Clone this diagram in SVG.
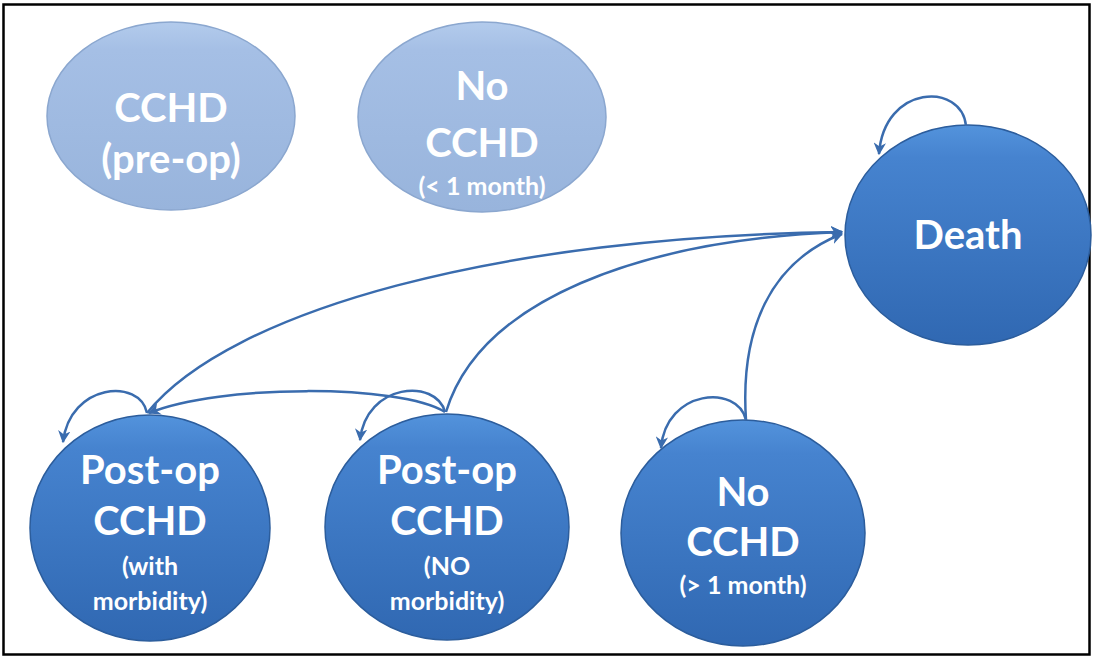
<svg xmlns="http://www.w3.org/2000/svg" width="1094" height="659" viewBox="0 0 1094 659">
<style>
.dark{fill:url(#gDark);stroke:#2c5d9c;stroke-width:1.5}
.light{fill:url(#gLight);stroke:#8ba7cf;stroke-width:1.5}
.t{font-family:Lato,"Open Sans",sans-serif;font-weight:bold;fill:#ffffff;text-anchor:middle}
.big{font-size:40px}
.small{font-size:25px}
.edge{fill:none;stroke:#3a6cae;stroke-width:2.5}
</style>
<defs>
<linearGradient id="gDark" x1="0" y1="0" x2="0" y2="1">
<stop offset="0" stop-color="#5393dc"/>
<stop offset="0.15" stop-color="#4683cf"/>
<stop offset="1" stop-color="#3068b2"/>
</linearGradient>
<linearGradient id="gLight" x1="0" y1="0" x2="0" y2="1">
<stop offset="0" stop-color="#b3cbec"/>
<stop offset="0.15" stop-color="#a5bfe5"/>
<stop offset="1" stop-color="#98b4dc"/>
</linearGradient>
<marker id="arr" viewBox="0 0 10 10" refX="9" refY="5" markerWidth="5" markerHeight="5" orient="auto" markerUnits="strokeWidth">
<path d="M0,0 L10,5 L0,10 L3,5 z" fill="#3a6cae"/>
</marker>
</defs>
<rect x="3.5" y="4.5" width="1086" height="650" fill="#ffffff" stroke="#000000" stroke-width="2.5"/>
<g id="n-cchd-preop">
<ellipse class="light" cx="171" cy="116" rx="124" ry="94"/>
<text class="t big" x="171" y="122">CCHD</text>
<text class="t big" x="171" y="173">(pre-op)</text>
</g>
<g id="n-nocchd-lt1">
<ellipse class="light" cx="482" cy="117" rx="124" ry="95"/>
<text class="t big" x="482" y="100">No</text>
<text class="t big" x="482" y="157">CCHD</text>
<text class="t small" x="482" y="195">(&lt; 1 month)</text>
</g>
<g id="n-death">
<ellipse class="dark" cx="968" cy="235" rx="123" ry="110"/>
<text class="t big" x="968" y="249">Death</text>
</g>
<g id="n-postop-with">
<ellipse class="dark" cx="150" cy="528" rx="120" ry="113"/>
<text class="t big" x="150" y="484">Post-op</text>
<text class="t big" x="150" y="535">CCHD</text>
<text class="t small" x="150" y="575">(with</text>
<text class="t small" x="150" y="610">morbidity)</text>
</g>
<g id="n-postop-no">
<ellipse class="dark" cx="447" cy="527" rx="122" ry="113"/>
<text class="t big" x="447" y="484">Post-op</text>
<text class="t big" x="447" y="535">CCHD</text>
<text class="t small" x="447" y="575">(NO</text>
<text class="t small" x="447" y="610">morbidity)</text>
</g>
<g id="n-nocchd-gt1">
<ellipse class="dark" cx="743" cy="533" rx="122" ry="113"/>
<text class="t big" x="743" y="506">No</text>
<text class="t big" x="743" y="556">CCHD</text>
<text class="t small" x="743" y="594">(&gt; 1 month)</text>
</g>
<g id="connectors">
<path class="edge" marker-end="url(#arr)" d="M966,126 C962,82 884,84 879,154"/>
<path class="edge" marker-end="url(#arr)" d="M147,413 C140,378 70,383 63,442"/>
<path class="edge" marker-end="url(#arr)" d="M445,412 C436,378 366,383 360,440"/>
<path class="edge" marker-end="url(#arr)" d="M746,420 C738,384 666,389 661,448"/>
<path class="edge" marker-end="url(#arr)" d="M147,413 C230,310 500,236 842,232"/>
<path class="edge" marker-end="url(#arr)" d="M446,412 C480,300 640,240 842,232"/>
<path class="edge" marker-end="url(#arr)" d="M746,420 C740,330 770,262 842,234"/>
<path class="edge" marker-end="url(#arr)" d="M445,412 C400,384 220,384 149,413"/>
</g>
</svg>
